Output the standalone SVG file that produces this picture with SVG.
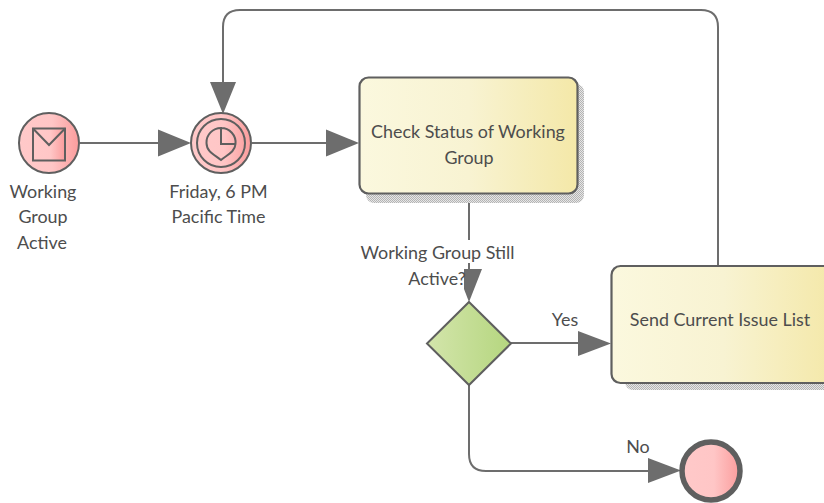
<svg xmlns="http://www.w3.org/2000/svg" width="824" height="503" viewBox="0 0 824 503">
<style>
text{font-family:"Lato","Carlito","Liberation Sans",sans-serif;font-size:17.9px;fill:#4d4d4d;text-anchor:middle}
.c{fill:none;stroke:#6d6d6d;stroke-width:2}
.h{fill:#6d6d6d;stroke:none}
.n{stroke:#5f5f5f;stroke-width:2}
.t{fill:url(#y);stroke:#5f5f5f;stroke-width:2.2}
.s{fill:url(#d)}
.l{fill:none;stroke:#5f5f5f;stroke-width:2}
</style>
<defs>
<linearGradient id="p"><stop offset="0" stop-color="#ffc9c9"/><stop offset="0.55" stop-color="#ffc6c6"/><stop offset="1" stop-color="#fb9c9c"/></linearGradient>
<linearGradient id="y"><stop offset="0" stop-color="#fbf8de"/><stop offset="0.5" stop-color="#f8f3d2"/><stop offset="1" stop-color="#f4e8a8"/></linearGradient>
<linearGradient id="g"><stop offset="0" stop-color="#d3e5ab"/><stop offset="1" stop-color="#b5d67f"/></linearGradient>
<pattern id="d" width="2" height="2" patternUnits="userSpaceOnUse"><rect width="2" height="2" fill="#e6e6e6"/><rect width="1" height="1" fill="#b4b4b4"/><rect x="1" y="1" width="1" height="1" fill="#b4b4b4"/></pattern>
</defs>
<g id="connectors">
<path class="c" d="M80 143H160"/><path class="h" d="M158 129.500L191 143L158 156.500Z"/>
<path class="c" d="M252 143H328"/><path class="h" d="M326 129.500L359 143L326 156.500Z"/>
<path class="c" d="M718 266V27Q718 10 701 10H240Q223 10 223 27V84"/><path class="h" d="M210 82L223 114L236 82Z"/>
<path class="c" d="M469 194V270"/>
<path class="c" d="M511 343H580"/><path class="h" d="M578 331L611 343.500L578 356Z"/>
<path class="c" d="M469 385V454Q469 471 486 471H650"/><path class="h" d="M648 458L681 470.500L648 483Z"/>
</g>
<g id="start">
<circle cx="49" cy="143" r="30" fill="url(#p)" class="n"/>
<rect x="33" y="128.500" width="32" height="32" fill="url(#p)" class="n"/>
<path class="l" d="M33 128.500L49 145L65 128.500"/>
<text x="43" y="198">Working</text><text x="43" y="223">Group</text><text x="42" y="249">Active</text>
</g>
<g id="timer">
<circle cx="221" cy="143" r="30" fill="url(#p)" class="n"/>
<circle cx="221" cy="143" r="24" fill="none" class="n"/>
<path class="l" d="M221 128A14.500 14.500 0 0 1 235.500 144C235 152 227 155 221 160C215 155 206.500 152 206.500 143A14.500 14.500 0 0 1 221 128V144H235.500"/>
<text x="218.500" y="198">Friday, 6 PM</text><text x="218.500" y="223">Pacific Time</text>
</g>
<g id="check">
<rect class="s" x="366" y="84" width="218" height="119" rx="8"/>
<rect class="t" x="359.500" y="77.500" width="218" height="116" rx="9"/>
<text x="468" y="138">Check Status of Working</text><text x="469" y="164">Group</text>
</g>
<g id="label">
<path class="h" d="M464 269H482L469 302L464 289Z"/>
<rect x="362" y="240" width="151" height="23" fill="#fff"/>
<path class="c" d="M469 263V270"/>
<text x="437.500" y="259">Working Group Still</text><text x="437" y="285">Active?</text>
</g>
<g id="gateway">
<path d="M469 302L511 343.500L469 385L427 343.500Z" fill="url(#g)" class="n"/>
</g>
<g id="send">
<rect class="s" x="625" y="273" width="211" height="117" rx="8"/>
<rect class="t" x="611.500" y="266" width="224" height="117" rx="9"/>
<text x="720" y="326">Send Current Issue List</text>
</g>
<text x="565" y="326">Yes</text>
<text x="638" y="453">No</text>
<g id="end">
<circle cx="711" cy="471" r="29" fill="url(#p)" stroke="#5f5f5f" stroke-width="5.500"/>
</g>
</svg>
